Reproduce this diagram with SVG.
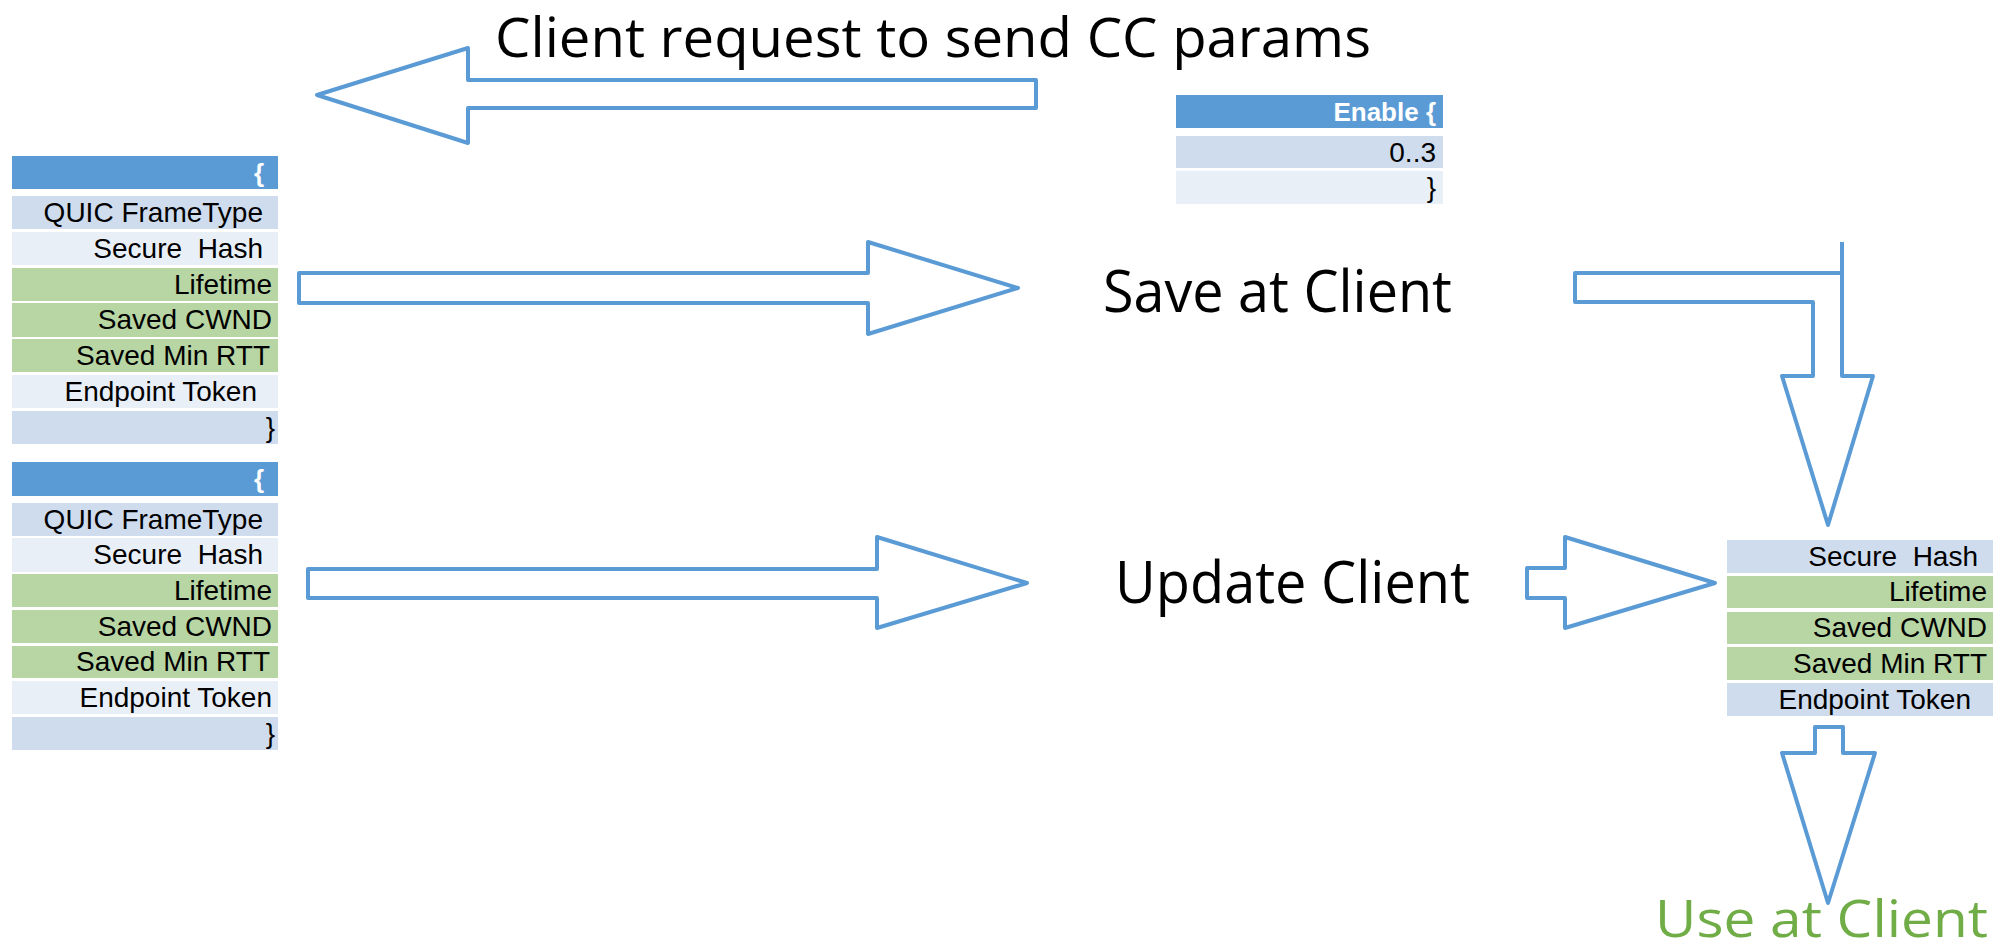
<svg xmlns="http://www.w3.org/2000/svg" width="2015" height="952" viewBox="0 0 2015 952">
<style>
.hd{fill:#5b9bd5}
.dk{fill:#cfdcee}
.lt{fill:#e9eff7}
.gr{fill:#b8d5a4}
.t{font-family:"Liberation Sans",Arial,sans-serif;font-size:28px;fill:#000;text-anchor:end;white-space:pre}
.th{font-family:"Liberation Sans",Arial,sans-serif;font-size:26px;font-weight:bold;fill:#fff;text-anchor:end}
.big{font-family:"Open Sans","Noto Sans",sans-serif;fill:#000}
.arr{fill:#fff;stroke:#5b9bd5;stroke-width:4;stroke-linejoin:round}
</style>
<rect width="2015" height="952" fill="#fff"/>

<g id="connectors">
  <path class="arr" d="M1036,80 H468 V48 L317,95 L468,143 V108 H1036 Z"/>
  <path class="arr" d="M299,273 H868 V242 L1018,288 L868,334 V303 H299 Z"/>
  <path class="arr" d="M308,569 H877 V537 L1027,583 L877,628 V598 H308 Z"/>
  <path class="arr" d="M1527,568 H1565 V537 L1715,583 L1565,628 V598 H1527 Z"/>
  <path class="arr" d="M1815,727 H1843 V753 H1875 L1828,903 L1782,753 H1815 Z"/>
  <path class="arr" d="M1842,242 V376 H1873 L1828,525 L1782,376 H1813 V302 H1575 V273 H1842"/>
</g>

<g id="title"><text class="big" x="495" y="57" font-size="54" textLength="876" lengthAdjust="spacingAndGlyphs">Client request to send CC params</text></g>
<g id="save"><text class="big" x="1103" y="312" font-size="58" textLength="349" lengthAdjust="spacingAndGlyphs">Save at Client</text></g>
<g id="update"><text class="big" x="1115" y="603" font-size="58" textLength="355" lengthAdjust="spacingAndGlyphs">Update Client</text></g>
<g id="use"><text class="big" x="1655" y="937" font-size="52" textLength="333" lengthAdjust="spacingAndGlyphs" style="fill:#70ad47">Use at Client</text></g>

<g id="table1">
  <rect class="hd" x="12" y="156" width="266" height="33"/>
  <text class="th" x="264" y="182">{</text>
  <rect class="dk" x="12" y="196" width="266" height="33"/>
  <text class="t" x="263" y="222">QUIC FrameType</text>
  <rect class="lt" x="12" y="232" width="266" height="33"/>
  <text class="t" x="263" y="258">Secure  Hash</text>
  <rect class="gr" x="12" y="268" width="266" height="33"/>
  <text class="t" x="272" y="294">Lifetime</text>
  <rect class="gr" x="12" y="303" width="266" height="34"/>
  <text class="t" x="272" y="329">Saved CWND</text>
  <rect class="gr" x="12" y="339" width="266" height="33"/>
  <text class="t" x="270" y="365">Saved Min RTT</text>
  <rect class="lt" x="12" y="375" width="266" height="33"/>
  <text class="t" x="257" y="401">Endpoint Token</text>
  <rect class="dk" x="12" y="411" width="266" height="33"/>
  <text class="t" x="275" y="437">}</text>
</g>

<g id="table2">
  <rect class="hd" x="12" y="462" width="266" height="34"/>
  <text class="th" x="264" y="488">{</text>
  <rect class="dk" x="12" y="503" width="266" height="33"/>
  <text class="t" x="263" y="529">QUIC FrameType</text>
  <rect class="lt" x="12" y="538" width="266" height="34"/>
  <text class="t" x="263" y="564">Secure  Hash</text>
  <rect class="gr" x="12" y="574" width="266" height="33"/>
  <text class="t" x="272" y="600">Lifetime</text>
  <rect class="gr" x="12" y="610" width="266" height="33"/>
  <text class="t" x="272" y="636">Saved CWND</text>
  <rect class="gr" x="12" y="646" width="266" height="32"/>
  <text class="t" x="270" y="671">Saved Min RTT</text>
  <rect class="lt" x="12" y="681" width="266" height="33"/>
  <text class="t" x="272" y="707">Endpoint Token</text>
  <rect class="dk" x="12" y="717" width="266" height="33"/>
  <text class="t" x="275" y="743">}</text>
</g>

<g id="enable">
  <rect class="hd" x="1176" y="95" width="267" height="33"/>
  <text class="th" x="1436" y="121">Enable {</text>
  <rect class="dk" x="1176" y="136" width="267" height="32"/>
  <text class="t" x="1436" y="162">0..3</text>
  <rect class="lt" x="1176" y="171" width="267" height="33"/>
  <text class="t" x="1436" y="197">}</text>
</g>

<g id="table3">
  <rect class="dk" x="1727" y="540" width="266" height="33"/>
  <text class="t" x="1978" y="566">Secure  Hash</text>
  <rect class="gr" x="1727" y="576" width="266" height="32"/>
  <text class="t" x="1987" y="601">Lifetime</text>
  <rect class="gr" x="1727" y="612" width="266" height="32"/>
  <text class="t" x="1987" y="637">Saved CWND</text>
  <rect class="gr" x="1727" y="647" width="266" height="33"/>
  <text class="t" x="1987" y="673">Saved Min RTT</text>
  <rect class="dk" x="1727" y="683" width="266" height="33"/>
  <text class="t" x="1971" y="709">Endpoint Token</text>
</g>
</svg>
